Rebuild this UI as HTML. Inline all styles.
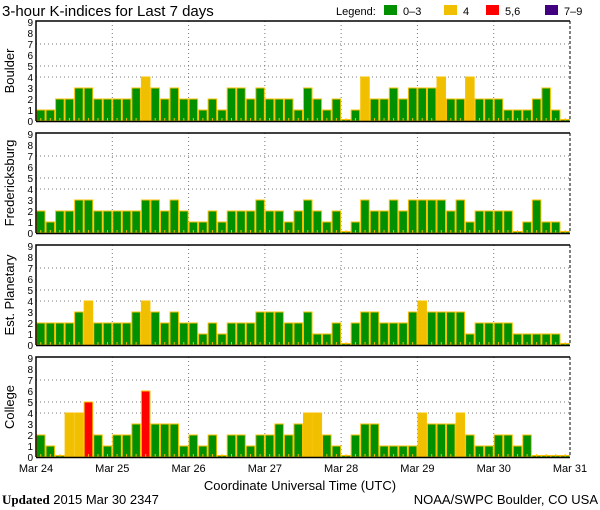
<!DOCTYPE html>
<html><head><meta charset="utf-8"><style>
body{margin:0;background:#fff;}
svg{display:block;font-family:"Liberation Sans",sans-serif;}
</style></head><body>
<svg id="chart" width="600" height="510" xmlns="http://www.w3.org/2000/svg">
<text x="2" y="16" font-size="15">3-hour K-indices for Last 7 days</text>
<g font-size="11">
<text x="336" y="15">Legend:</text>
<rect x="384" y="5" width="13" height="10" fill="#009000"/><text x="403" y="15">0–3</text>
<rect x="444" y="5" width="13" height="10" fill="#f0c000"/><text x="463" y="15">4</text>
<rect x="486" y="5" width="13" height="10" fill="#ff0000"/><text x="505" y="15">5,6</text>
<rect x="545" y="5" width="13" height="10" fill="#400080"/><text x="564" y="15">7–9</text>
</g>
<text x="300" y="490" font-size="13" text-anchor="middle">Coordinate Universal Time (UTC)</text>
<text x="2" y="504" font-size="13"><tspan font-weight="bold" font-family="Liberation Serif">Updated</tspan> 2015 Mar 30 2347</text>
<text x="598" y="504" font-size="13" text-anchor="end">NOAA/SWPC Boulder, CO USA</text>
</svg>
<script>
const stations = ["Boulder","Fredericksburg","Est. Planetary","College"];
const boulder = [1,1,2,2,3,3,2,2,2,2,3,4,3,2,3,2,2,1,2,1,3,3,2,3,2,2,2,1, 3,2,1,2,0,1,4,2,2,3,2,3,3,3,4,2,2,4,2,2,2,1,1,1,2,3,1,0];
const fredericksburg = [2,1,2,2,3,3,2,2,2,2,2,3,3,2,3,2,1,1,2,1,2,2,2,3,2,2,1,2, 3,2,1,2,0,1,3,2,2,3,2,3,3,3,3,2,3,1,2,2,2,2,0,1,3,1,1,0];
const planetary = [2,2,2,2,3,4,2,2,2,2,3,4,3,2,3,2,2,1,2,1,2,2,2,3,3,3,2,2, 3,1,1,2,0,2,3,3,2,2,2,3,4,3,3,3,3,1,2,2,2,2,1,1,1,1,1,0];
const college = [2,1,0,4,4,5,2,1,2,2,3,6,3,3,3,1,2,1,2,0,2,2,1,2,2,3,2,3, 4,4,2,1,0,2,3,3,1,1,1,1,4,3,3,3,4,2,1,1,2,2,1,2,0,0,0,0];
const dayLabels = ["Mar 24","Mar 25","Mar 26","Mar 27","Mar 28","Mar 29","Mar 30","Mar 31"];
const yTicks = [0,1,2,3,4,5,6,7,8,9];

const series = [boulder, fredericksburg, planetary, college];
const svg = document.getElementById('chart');
const NS = 'http://www.w3.org/2000/svg';
const X0 = 36, X1 = 570, tops = [21,133,245,357], PH = 100, U = 11;
const nBars = boulder.length;
const bw = (X1 - X0) / nBars;
function xs(i){ return X0 + i * bw; }
function ys(top, v){ return top + PH - v * U; }
function mk(tag, attrs){ const e = document.createElementNS(NS, tag); for (const k in attrs) e.setAttribute(k, attrs[k]); svg.appendChild(e); return e; }
function color(v){ return v >= 7 ? '#400080' : v >= 5 ? '#ff0000' : v === 4 ? '#f0c000' : '#009000'; }

series.forEach((data, p) => {
  const top = tops[p], bot = top + PH;
  // grid
  [4,5,7].forEach(g => {
    const l = mk('line', {x1:X0, x2:X1, y1:ys(top,g), y2:ys(top,g), stroke:'#777', 'stroke-dasharray':'1,3'});
    
    
  });
  for (let d = 1; d < 7; d++) {
    const x = X0 + d * 8 * bw;
    const l = mk('line', {x1:x, x2:x, y1:top, y2:bot, stroke:'#777', 'stroke-dasharray':'1,3'});
    
    
  }
  // bars
  data.forEach((v, i) => {
    const h = Math.max(v * U, 1.5);
    const r = mk('rect', {x:xs(i)+0.5, y:bot-h, width:bw-1, height:h, fill:color(v), stroke:'#f8c000', 'stroke-width':1});
    
    
    const t = mk('line', {x1:xs(i)+bw/2, x2:xs(i)+bw/2, y1:bot-3, y2:bot, stroke:'#f8c000', 'stroke-width':1});
    
    
  });
  // frame
  const f1 = mk('path', {d:`M${X0},${bot} L${X0},${top} L${X1},${top}`, fill:'none', stroke:'#000', 'stroke-width':1.5});
  
  
  const f2 = mk('line', {x1:X1, x2:X1, y1:top, y2:bot, stroke:'#000', 'stroke-dasharray':'3,2'});
  
  
  const f3 = mk('line', {x1:X0, x2:X1, y1:bot+0.5, y2:bot+0.5, stroke:'#000', 'stroke-width':1.5});
  
  
  // y ticks
  yTicks.forEach(t => {
    const tx = mk('text', {x:33, y:ys(top,t)+4, 'font-size':10, 'text-anchor':'end'});
    tx.textContent = t;
    
    
  });
  const lab = mk('text', {x:0, y:0, 'font-size':13, 'text-anchor':'middle', transform:`translate(14,${top+PH/2}) rotate(-90)`});
  lab.textContent = stations[p];
  
  
});
dayLabels.forEach((d, i) => {
  const t = mk('text', {x:X0 + i*8*bw, y:472, 'font-size':11, 'text-anchor':'middle'});
  t.textContent = d;
  
  
});
</script>
</body></html>
